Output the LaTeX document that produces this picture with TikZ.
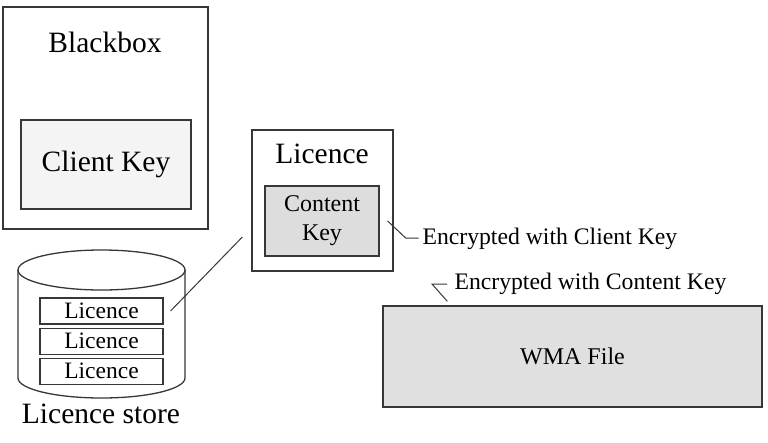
\documentclass[tikz,border=0pt]{standalone}
\usepackage{fontspec}
\setmainfont{Liberation Serif}
\usepackage{tikz}
\usetikzlibrary{positioning}
\definecolor{boxEdge}{RGB}{55, 55, 55}
\definecolor{keyLight}{RGB}{244, 244, 244}
\definecolor{keyGrey}{RGB}{221, 221, 221}
\definecolor{fileGrey}{RGB}{224, 224, 224}

\begin{document}
\begin{tikzpicture}[
        x=1pt, y=-1pt,
        outer/.style={
            rectangle, draw=boxEdge, line width=1.3pt, inner sep=0pt
        },
        keybox/.style={
            rectangle, draw=boxEdge, line width=1.3pt, inner sep=0pt, align=center
        },
        licrow/.style={
            rectangle, draw=boxEdge, line width=1.1pt, fill=white,
            minimum width=123pt, minimum height=26pt, inner sep=0pt,
            font=\fontsize{23.5}{25}\selectfont
        },
        big/.style={font=\fontsize{29.5}{33}\selectfont},
        small/.style={font=\fontsize{24}{29}\selectfont, align=center},
        note/.style={font=\fontsize{23.7}{26}\selectfont},
        line/.style={draw=boxEdge, line width=1pt}
    ]

    \useasboundingbox (0,0) rectangle (768,442);

    % BLACKBOX
    \node[outer, minimum width=205pt, minimum height=222pt] (blackbox) at (105.5,118) {};
    \node[big] (bbtitle) at (105,42) {Blackbox};
    \node[keybox, fill=keyLight, minimum width=170pt, minimum height=89pt, big] (clientkey) at (106,164.5) {Client Key};

    % LICENCE STORE (cylinder drawn by hand)
    \draw[line, line width=1.3pt, fill=white] (18,270) -- (18,378)
        arc[start angle=180, end angle=0, x radius=83.5, y radius=20] -- (185,270);
    \draw[line, line width=1.3pt] (101.5,270) ellipse [x radius=83.5, y radius=20];

    \node[licrow] (lic1) at (101.5,311) {Licence};
    \node[licrow, below=3pt of lic1] (lic2) {Licence};
    \node[licrow, below=3pt of lic2] (lic3) {Licence};
    \node[big] (storename) at (101,414) {Licence store};

    % LICENCE
    \node[outer, minimum width=141pt, minimum height=141pt] (licence) at (322.5,200.5) {};
    \node[big] (lictitle) at (322,154) {Licence};
    \node[keybox, fill=keyGrey, minimum width=114pt, minimum height=70pt, small] (contentkey) at (322,221) {Content\\Key};

    % WMA FILE
    \node[keybox, fill=fileGrey, minimum width=379pt, minimum height=101pt, small] (wma) at (572.5,356.5) {WMA File};

    % ANNOTATIONS
    \node[note, anchor=west] (encclient) at (419,239) {Encrypted with Client Key};
    \node[note, anchor=west] (enccontent) at (451,284) {Encrypted with Content Key};

    % CONNECTORS
    \draw[line] ([xshift=7pt]lic1.east) -- ([xshift=-9pt, yshift=-36.5pt]licence.west);
    \draw[line] ([xshift=8pt]contentkey.east) -- ++(18,17) -- ++(13,0);
    \draw[line] ([xshift=-4pt]enccontent.west) -- ++(-15,0) -- ([xshift=65pt, yshift=4pt]wma.north west);

\end{tikzpicture}
\end{document}
